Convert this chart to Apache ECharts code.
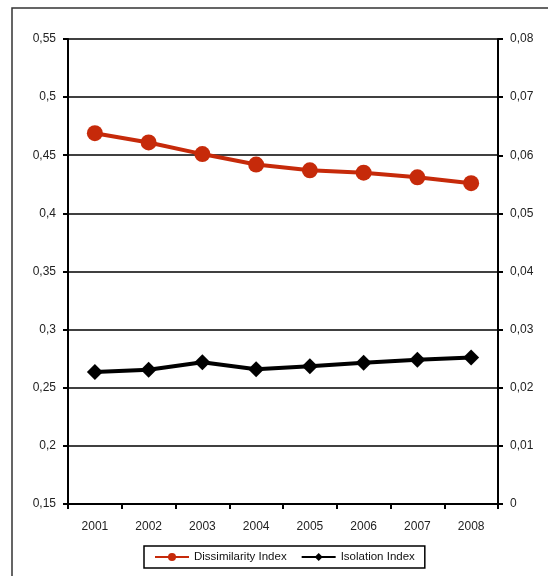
<!DOCTYPE html>
<html>
<head>
<meta charset="utf-8">
<script src="https://cdn.jsdelivr.net/npm/echarts@6/dist/echarts.min.js"></script>
<style>
  html, body { margin: 0; padding: 0; background: #fff; }
  #chart { width: 548px; height: 576px; }
</style>
</head>
<body>
<div id="chart"></div>
<script>
// categories and values
const years = ['2001', '2002', '2003', '2004', '2005', '2006', '2007', '2008']
const dissimilarity = [0.469, 0.461, 0.451, 0.442, 0.437, 0.435, 0.431, 0.426]
const isolation = [0.0227, 0.0231, 0.0244, 0.0232, 0.0237, 0.0243, 0.0248, 0.0252]

const comma = (v) => parseFloat(v.toFixed(3)).toString().replace('.', ',')

let chart = echarts.init(document.getElementById('chart'))
let option = {
  backgroundColor: '#fff',
  textStyle: { fontFamily: 'Liberation Sans, Arial, sans-serif' },
  graphic: [
    {
      type: 'rect',
      shape: { x: 12, y: 8, width: 700, height: 700 },
      style: { fill: 'none', stroke: '#333', lineWidth: 1.5 },
      silent: true,
    },
  ],
  grid: { left: 68, right: 50, top: 39, bottom: 72 },
  legend: {
    left: 144,
    top: 546,
    itemGap: 14,
    itemWidth: 34,
    itemHeight: 10,
    padding: [5, 10, 5, 10],
    borderColor: '#000',
    borderWidth: 1.5,
    textStyle: { color: '#111', fontSize: 11.5 },
    data: ['Dissimilarity Index', 'Isolation Index'],
  },
  xAxis: {
    type: 'category',
    data: years,
    boundaryGap: true,
    axisLine: { lineStyle: { color: '#000', width: 2 } },
    axisTick: { show: true, length: 5, lineStyle: { color: '#000', width: 2 } },
    axisLabel: { color: '#222', fontSize: 12, margin: 17 },
  },
  yAxis: [
    {
      type: 'value',
      min: 0.15,
      max: 0.55,
      interval: 0.05,
      axisLine: { show: true, lineStyle: { color: '#000', width: 2 } },
      axisTick: { show: true, length: 5, lineStyle: { color: '#000', width: 2 } },
      splitLine: { lineStyle: { color: '#000', width: 1.5 } },
      axisLabel: { color: '#222', fontSize: 12, margin: 12, formatter: comma },
    },
    {
      type: 'value',
      min: 0,
      max: 0.08,
      interval: 0.01,
      position: 'right',
      axisLine: { show: true, lineStyle: { color: '#000', width: 2 } },
      axisTick: { show: true, length: 5, lineStyle: { color: '#000', width: 2 } },
      splitLine: { show: false },
      axisLabel: { color: '#222', fontSize: 12, margin: 12, formatter: comma },
    },
  ],
  series: [
    {
      name: 'Dissimilarity Index',
      type: 'line',
      yAxisIndex: 0,
      data: dissimilarity,
      symbol: 'circle',
      symbolSize: 16,
      lineStyle: { color: '#c62a0a', width: 4 },
      itemStyle: { color: '#c62a0a' },
    },
    {
      name: 'Isolation Index',
      type: 'line',
      yAxisIndex: 1,
      data: isolation,
      symbol: 'diamond',
      symbolSize: [16, 16],
      lineStyle: { color: '#000', width: 4 },
      itemStyle: { color: '#000' },
    },
  ],
  animation: false,
}
chart.setOption(option)
</script>
</body>
</html>
